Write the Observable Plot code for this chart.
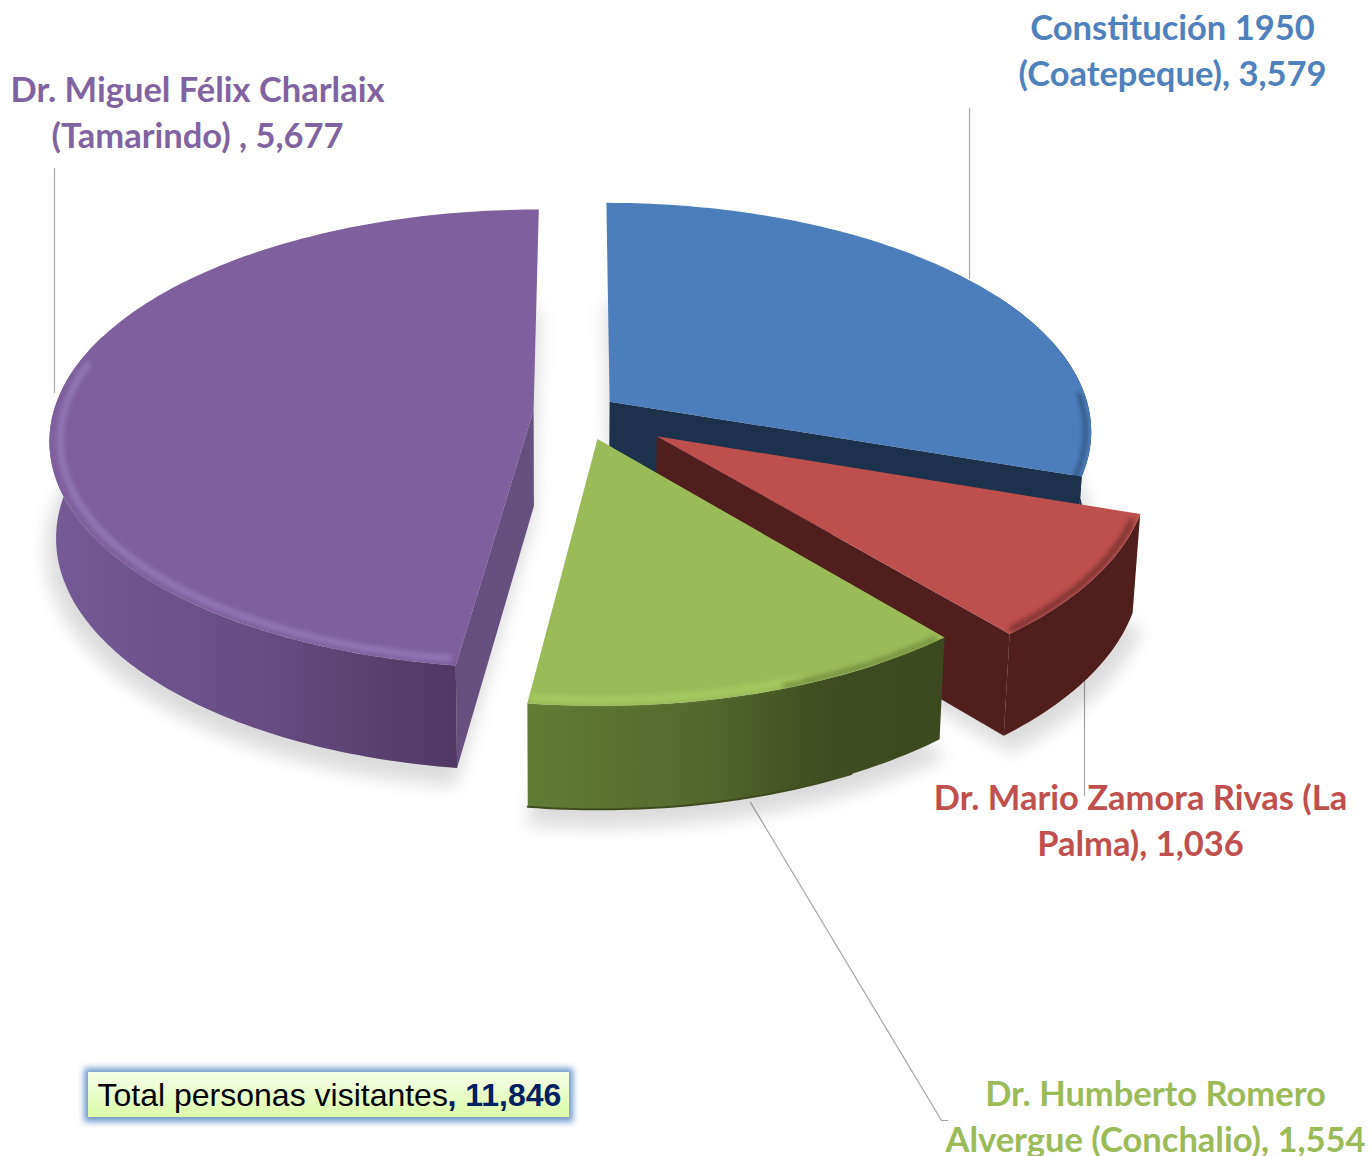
<!DOCTYPE html>
<html><head><meta charset="utf-8">
<style>html,body{margin:0;padding:0;background:#fff}svg{display:block}</style>
<script src="https://cdn.jsdelivr.net/npm/d3@7"></script>
<script src="https://cdn.jsdelivr.net/npm/@observablehq/plot@0.6"></script>
</head><body><div id="chart"></div>
<script>
// ---- data
const names = ["Constitución 1950\n(Coatepeque)", "Dr. Mario Zamora Rivas (La\nPalma)", "Dr. Humberto Romero\nAlvergue (Conchalio)", "Dr. Miguel Félix Charlaix\n(Tamarindo) "];
const values = [3579, 1036, 1554, 5677];
const totalLabel = "Total personas visitantes";
const totalValue = 11846;

// ---- layout and style
const explode = [0.075, 0.19, 0.125, 0.098];
const colors = ["#4c7ebb", "#bd4f4c", "#9bbb59", "#7f609e"];
const labelColors = ["#4f81bd", "#c0504d", "#9bbb59", "#8064a2"];
const labelX = [1172, 1140, 1155, 197];
const labelY = [48, 818, 1114, 110];
const pie = {cx: 580, cy: 411, rx: 480, ry: 226, persp: 0.125, h: 96, vx: 560, shrink: 0.987};
const W = 1372, H = 1156;

const fmt = d3.format(",");
const total = d3.sum(values);
const rad = d => d * Math.PI / 180;

// sector boundaries, clockwise from twelve o'clock, from the values
let acc = 0;
const slices = values.map((v, i) => {
  const a0 = acc / total * 360; acc += v; const a1 = acc / total * 360;
  const m = rad((a0 + a1) / 2);
  return {i, a0, a1, au: explode[i] * Math.sin(m), av: -explode[i] * Math.cos(m)};
});
function proj(s, u, v, bottom) {
  const U = s.au + u, V = s.av + v, k = 1 / (1 - pie.persp * V);
  let x = pie.cx + pie.rx * U * k, y = pie.cy + pie.ry * V * k;
  if (bottom) { x = pie.vx + (x - pie.vx) * pie.shrink; y += pie.h * Math.sqrt(k); }
  return {x, y};
}
const onRim = (s, deg, r, bottom) => proj(s, r * Math.sin(rad(deg)), -r * Math.cos(rad(deg)), bottom);
const arc = (s, from, to, r = 1, bottom = false) => {
  const n = Math.max(2, Math.ceil(Math.abs(to - from))), out = [];
  for (let j = 0; j <= n; ++j) out.push(onRim(s, from + (to - from) * j / n, r, bottom));
  return out;
};
const apex = (s, bottom) => proj(s, 0, 0, bottom);
const topFace = s => [apex(s), ...arc(s, s.a0, s.a1)];
const bottomFace = s => [apex(s, true), ...arc(s, s.a0, s.a1, 1.02, true)];
const wallFace = (s, from = s.a0, to = s.a1) => [...arc(s, from, to), ...arc(s, to, from, 1, true)];
const sideFace = (s, a) => [apex(s), onRim(s, a, 1), onRim(s, a, 1, true), apex(s, true)];

const face = (pts, fill, extra = {}) => Plot.line(pts, {x: "x", y: "y", fill, stroke: "none", ...extra});
const shift = (pts, dx, dy) => pts.map(p => ({x: p.x + dx, y: p.y + dy}));
const [blue, red, green, purple] = slices;

function defs() {
  const d = d3.create("svg:defs");
  const grad = (id, stops, vertical) => {
    const g = d.append("linearGradient").attr("id", id).attr("x1", 0).attr("y1", 0)
      .attr("x2", vertical ? 0 : 1).attr("y2", vertical ? 1 : 0);
    stops.forEach(([o, c]) => g.append("stop").attr("offset", o).attr("stop-color", c));
  };
  grad("purpleWall", [[0, "#745b97"], [0.5, "#674d84"], [1, "#4f3963"]]);
  grad("greenWall", [[0, "#627c36"], [0.4, "#55692e"], [0.72, "#3f4d20"], [1, "#3c481e"]]);
  grad("boxFill", [[0, "#f5fde8"], [1, "#dcfba8"]], true);
  return d.node();
}

const leaders = [
  [{x: 969, y: 108}, {x: 969, y: 278}],
  [{x: 54, y: 168}, {x: 54, y: 392}],
  [{x: 1084, y: 680}, {x: 1084, y: 795}],
  [{x: 750, y: 802}, {x: 941, y: 1120}, {x: 947, y: 1120}]
];
const labels = slices.map(s => ({
  text: `${names[s.i]}, ${fmt(values[s.i])}`, x: labelX[s.i], y: labelY[s.i], color: labelColors[s.i]
}));
const boxRect = [{x1: 88, x2: 569, y1: 1072, y2: 1117}];

const chart = Plot.plot({
  width: W, height: H, margin: 0,
  x: {domain: [0, W], range: [0, W], axis: null},
  y: {domain: [0, H], range: [0, H], axis: null},
  style: {background: "#fff"},
  marks: [
    defs,
    ...leaders.map(l => Plot.line(l, {x: "x", y: "y", stroke: "#a6a6a6", strokeWidth: 1.2})),
    // soft cast shadows
    ...slices.map(s => face(shift(bottomFace(s), 0, 12), "#000", {fillOpacity: 0.14, imageFilter: "blur(9px)"})),
    // blue slice
    face(sideFace(blue, blue.a1), "#1c324c"),
    face(wallFace(blue, 60), "#1c324c"),
    face(topFace(blue), colors[0]),
    Plot.line(arc(blue, 88, blue.a1, 0.988), {x: "x", y: "y", stroke: "#1c324c", strokeWidth: 4, strokeOpacity: 0.55, imageFilter: "blur(2px)"}),
    // purple slice
    face(sideFace(purple, purple.a0), "#66507f"),
    face(wallFace(purple, purple.a0, 290), "url(#purpleWall)"),
    face(topFace(purple), colors[3]),
    Plot.line(arc(purple, purple.a0 + 1, 282, 0.978), {x: "x", y: "y", stroke: "#9379b9", strokeWidth: 7, strokeOpacity: 0.85, imageFilter: "blur(2px)"}),
    // red slice
    face(sideFace(red, red.a1), "#4f1e1d"),
    face(wallFace(red), "#4f1e1d"),
    face(topFace(red), colors[1]),
    Plot.line(arc(red, red.a0 + 2, red.a1 - 1, 0.99), {x: "x", y: "y", stroke: "#4f1e1d", strokeWidth: 5, strokeOpacity: 0.65, imageFilter: "blur(2.5px)"}),
    // green slice
    face(wallFace(green), "url(#greenWall)"),
    Plot.line(arc(green, green.a0 + 12, green.a1, 1, true), {x: "x", y: "y", stroke: "#3e4b1f", strokeWidth: 2}),
    face(topFace(green), colors[2]),
    Plot.line(arc(green, green.a1 - 0.5, green.a0 + 18, 0.98), {x: "x", y: "y", stroke: "#a9cd62", strokeWidth: 7, strokeOpacity: 0.8, imageFilter: "blur(2.5px)"}),
    Plot.line(arc(green, green.a0 + 20, green.a0 + 1, 0.992), {x: "x", y: "y", stroke: "#3e4b1f", strokeWidth: 4, strokeOpacity: 0.5, imageFilter: "blur(2.5px)"}),
    // category labels
    Plot.text(labels, {x: "x", y: "y", text: "text", fill: "color", fontFamily: "Lato", fontWeight: 700, fontSize: 34.5, lineHeight: 1.333}),
    // total box
    Plot.rect(boxRect, {x1: d => d.x1 - 4, x2: d => d.x2 + 4, y1: d => d.y1 - 4, y2: d => d.y2 + 5, fill: "#4f81bd", fillOpacity: 0.8, imageFilter: "blur(3px)"}),
    Plot.rect(boxRect, {x1: "x1", x2: "x2", y1: "y1", y2: "y2", fill: "url(#boxFill)"}),
    Plot.text([totalLabel], {x: 97, y: 1095, text: d => d, textAnchor: "start", fill: "#000", fontFamily: "Liberation Sans", fontSize: 32}),
    Plot.text([`, ${fmt(totalValue)}`], {x: 447, y: 1095, text: d => d, textAnchor: "start", fill: "#002060", fontFamily: "Liberation Sans", fontWeight: 700, fontSize: 32})
  ]
});
document.getElementById("chart").append(chart);
</script></body></html>
